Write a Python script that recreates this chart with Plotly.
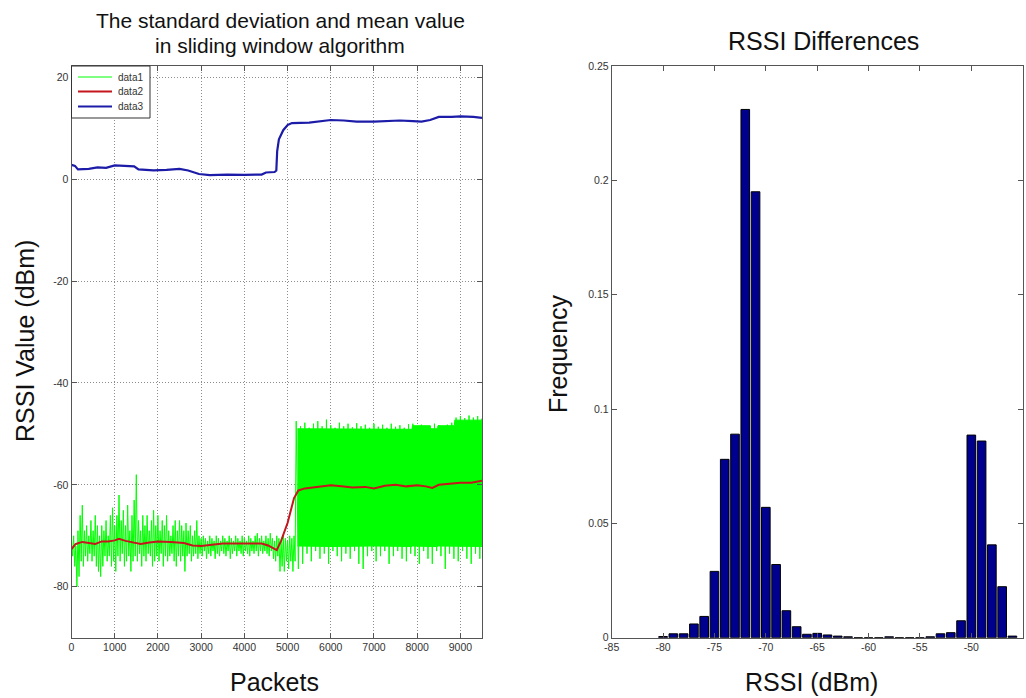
"""
Sliding-window RSSI plot (left) and RSSI histogram (right), MATLAB-style look.
"""

import plotly.graph_objects as go

W, H = 1026, 698

# ---- left panel: packets vs RSSI ------------------------------------------
# data1 before the jump: raw RSSI read as high/low envelope every 50 packets
NOISE_PACKETS = list(range(0, 5200, 50))
NOISE_HIGH = [
    -71, -70, -72, -69, -66, -64, -69, -68, -70, -67,
    -69, -66, -68, -70, -68, -69, -67, -70, -66, -64.5,
    -68, -66, -62, -67, -65, -68, -64, -69, -66, -63,
    -58, -67, -69, -66, -68, -66, -69, -67, -65, -68,
    -66, -69, -67, -68, -66, -69, -70, -68, -67, -69,
    -67, -68, -69, -67.5, -69, -68, -70, -69, -67, -70,
    -70.5, -70, -70.5, -71, -70, -70.5, -71, -70, -70.5, -71,
    -70, -70.5, -71, -70, -70.5, -71, -70, -70.5, -71, -70,
    -70.5, -71, -70, -70.5, -71, -70, -69.5, -70.5, -70, -71,
    -70, -70.5, -69.5, -70.5, -71, -70, -70.5, -71, -70, -70.5,
    -71, -70, -70.5, -70,
]
NOISE_LOW = [
    -74, -76, -80, -78, -75, -76, -74, -75, -73.5, -75,
    -74, -76, -77, -78, -76, -74, -75, -74, -76, -75,
    -77, -74, -75, -73.5, -76, -75, -74, -77, -75, -74,
    -75, -73.5, -76, -74, -75, -73.5, -74, -76, -75, -74,
    -75, -73.5, -76, -74, -75, -74, -73.5, -75, -76, -74,
    -75, -74, -77, -74, -73.5, -75, -74, -73.5, -74.5, -73.5,
    -74, -73, -74.5, -73.5, -74, -73, -74.5, -73.5, -74, -73,
    -73.5, -74, -73, -74.5, -73.5, -73, -74, -73, -73.5, -74,
    -73, -73.5, -74, -73, -73.5, -73, -74, -73, -73.5, -73,
    -73.5, -74, -73, -74.5, -75, -74, -77, -76, -77, -75,
    -76.5, -75, -77, -75,
]
# data1 after the jump: solid band core plus spikes every 100 packets
BAND_PACKETS = [5230, 6000, 7000, 7880, 7890, 8300, 8310, 8470, 8480, 8860, 8870, 9500]
BAND_TOP = [-49.0, -49.0, -49.1, -49.1, -48.4, -48.4, -49.0, -49.0, -48.4, -48.4, -47.3, -47.3]
BAND_BOTTOM = [-72.0, -72.1, -72.0, -72.1, -72.0, -72.1, -72.0, -72.1, -72.0, -72.1, -72.0, -72.1]
SPIKE_PACKETS = list(range(5200, 9501, 100))
SPIKE_HIGH = [
    -47.5, -48.5, -47.8, -48.8, -48.0, -47.5, -48.5, -47.2, -48.3, -48.8,
    -47.8, -48.5, -48.0, -48.7, -47.9, -48.5, -48.2, -48.8, -48.0, -48.6,
    -48.2, -48.8, -48.0, -48.6, -48.3, -48.8, -48.1, -48.0, -48.5, -48.2,
    -48.9, -48.4, -48.0, -48.3, -48.6, -48.2, -47.8, -46.8, -46.5, -46.9,
    -46.4, -46.8, -46.5, -47.0,
]
SPIKE_LOW = [
    -76.5, -75.5, -73.5, -75.0, -73.0, -74.5, -73.5, -75.5, -73.0, -74.0,
    -75.0, -73.5, -74.5, -73.0, -75.5, -76.5, -74.0, -73.0, -75.0, -74.0,
    -73.0, -75.5, -74.0, -73.0, -74.5, -75.0, -73.5, -74.0, -75.5, -73.0,
    -74.5, -75.5, -73.0, -74.0, -76.5, -73.5, -74.5, -75.0, -73.0, -74.5,
    -75.5, -73.5, -74.5, -75.0,
]

# data2 : sliding-window mean
MEAN_PACKETS = [0, 100, 250, 400, 550, 700, 850, 1000, 1100, 1250, 1450, 1600, 1800,
                2000, 2300, 2600, 2800, 3000, 3200, 3500, 4000, 4400, 4550, 4750,
                4850, 5000, 5150, 5250, 5400, 5600, 5800, 6000, 6250, 6500, 6800,
                7000, 7250, 7500, 7750, 8000, 8200, 8350, 8500, 8750, 9000, 9250, 9500]
MEAN_RSSI = [-72.6, -71.6, -71.2, -71.4, -71.6, -71.1, -71.1, -70.9, -70.6, -71.0,
             -71.4, -71.6, -71.3, -71.1, -71.2, -71.4, -71.9, -72.0, -71.8, -71.5,
             -71.5, -71.5, -71.9, -72.8, -71.0, -67.5, -62.6, -61.1, -60.7, -60.5,
             -60.3, -60.1, -60.3, -60.5, -60.4, -60.7, -60.2, -60.0, -60.3, -60.1,
             -60.3, -60.6, -60.0, -59.8, -59.6, -59.6, -59.2]

# data3 : sliding-window standard deviation
STD_PACKETS = [0, 80, 150, 400, 600, 800, 1000, 1300, 1450, 1550, 1900, 2200, 2500,
               2700, 2950, 3200, 3600, 4000, 4400, 4500, 4700, 4740, 4760, 4800,
               4900, 5000, 5100, 5500, 5800, 6000, 6300, 6600, 7000, 7300, 7600,
               7900, 8100, 8300, 8500, 8800, 9000, 9300, 9500]
STD_RSSI = [2.8, 2.6, 1.9, 2.0, 2.3, 2.2, 2.7, 2.6, 2.5, 1.9, 1.7, 1.8, 2.0,
            1.7, 1.0, 0.8, 0.9, 0.85, 0.9, 1.3, 1.4, 1.7, 5.5, 7.8,
            9.6, 10.6, 11.0, 11.1, 11.4, 11.6, 11.5, 11.3, 11.3, 11.4, 11.5,
            11.4, 11.3, 11.6, 12.2, 12.2, 12.3, 12.2, 12.0]

LEFT_XTICKS = list(range(0, 9001, 1000))
LEFT_YTICKS = [-80, -60, -40, -20, 0, 20]
LEGEND_NAMES = ["data1", "data2", "data3"]

# ---- right panel: histogram -------------------------------------------------
RSSI_BINS = list(range(-80, -45))
FREQUENCY = [0.0005, 0.0017, 0.0017, 0.006, 0.0093, 0.029, 0.078, 0.089, 0.231, 0.195,
             0.057, 0.032, 0.0118, 0.0048, 0.0015, 0.0019, 0.0012, 0.0007, 0.0004, 0,
             0, 0, 0.0004, 0, 0, 0, 0.0004, 0.0017, 0.0022, 0.0074,
             0.0886, 0.086, 0.0406, 0.0223, 0.0007]
RIGHT_XTICKS = list(range(-85, -44, 5))
RIGHT_YTICKS = [0, 0.05, 0.1, 0.15, 0.2, 0.25]
RIGHT_YTEXT = ["0", "0.05", "0.1", "0.15", "0.2", "0.25"]

FONT = "Liberation Sans, Arial, sans-serif"
GREEN = "#00ff00"
RED = "#c4161c"
BLUE = "#1c1ca8"
FRAME = "#555555"


def px_x(x):
    return x / W


def px_y(y):
    return 1 - y / H


# zigzag through the envelopes so the raw trace reads as noise
zig_x, zig_y = [], []
for p, hi, lo in zip(NOISE_PACKETS, NOISE_HIGH, NOISE_LOW):
    zig_x += [p, p + 25]
    zig_y += [hi, lo]
for p, hi, lo in zip(SPIKE_PACKETS, SPIKE_HIGH, SPIKE_LOW):
    zig_x += [p, p + 50]
    zig_y += [hi, lo]

band_x = BAND_PACKETS + BAND_PACKETS[::-1]
band_y = BAND_TOP + BAND_BOTTOM[::-1]

fig = go.Figure()
fig.add_trace(go.Scatter(x=band_x, y=band_y, fill="toself", fillcolor=GREEN, mode="lines",
                         line=dict(color=GREEN, width=1), hoverinfo="skip"))
fig.add_trace(go.Scatter(x=zig_x, y=zig_y, mode="lines", name="data1",
                         line=dict(color=GREEN, width=1)))
fig.add_trace(go.Scatter(x=MEAN_PACKETS, y=MEAN_RSSI, mode="lines", name="data2",
                         line=dict(color=RED, width=2)))
fig.add_trace(go.Scatter(x=STD_PACKETS, y=STD_RSSI, mode="lines", name="data3",
                         line=dict(color=BLUE, width=2.2)))
fig.add_trace(go.Bar(x=RSSI_BINS, y=FREQUENCY, xaxis="x2", yaxis="y2", width=0.84,
                     marker=dict(color="#00008f", line=dict(color="#000000", width=1))))

axis_common = dict(
    showline=True, linecolor=FRAME, linewidth=1, mirror="ticks",
    ticks="inside", ticklen=5, tickcolor=FRAME, zeroline=False, automargin=False,
    tickfont=dict(family=FONT, size=10.5, color="#333333"),
)
grid = dict(showgrid=True, gridcolor="#8c8c8c", griddash="1px,2px", gridwidth=1)

fig.update_layout(
    width=W, height=H,
    margin=dict(l=0, r=0, t=0, b=0, autoexpand=False),
    paper_bgcolor="white", plot_bgcolor="white",
    font=dict(family=FONT, color="#111111"),
    showlegend=False,
    xaxis=dict(domain=[px_x(71.5), px_x(482)], range=[0, 9500], anchor="y",
               tickmode="array", tickvals=LEFT_XTICKS, ticktext=[str(v) for v in LEFT_XTICKS],
               **grid, **axis_common),
    yaxis=dict(domain=[px_y(637.7), px_y(66)], range=[-90, 22.2], anchor="x",
               tickmode="array", tickvals=LEFT_YTICKS, ticktext=[str(v) for v in LEFT_YTICKS],
               **grid, **axis_common),
    xaxis2=dict(domain=[px_x(611.7), px_x(1022.7)], range=[-85, -45], anchor="y2",
                tickmode="array", tickvals=RIGHT_XTICKS, ticktext=[str(v) for v in RIGHT_XTICKS],
                showgrid=False, **axis_common),
    yaxis2=dict(domain=[px_y(637.7), px_y(66)], range=[0, 0.25], anchor="x2",
                tickmode="array", tickvals=RIGHT_YTICKS, ticktext=RIGHT_YTEXT,
                showgrid=False, **axis_common),
)

# MATLAB-style legend box in the upper-left corner of the left axes
fig.add_shape(type="rect", xref="paper", yref="paper",
              x0=px_x(71.5), x1=px_x(150), y0=px_y(118), y1=px_y(66),
              line=dict(color="#333333", width=1), fillcolor="white", layer="above")
for name, color, row_y in zip(LEGEND_NAMES, [GREEN, RED, BLUE], [77, 91.5, 106.5]):
    fig.add_shape(type="line", xref="paper", yref="paper",
                  x0=px_x(78), x1=px_x(112), y0=px_y(row_y), y1=px_y(row_y),
                  line=dict(color=color, width=1 if name == "data1" else 2), layer="above")
    fig.add_annotation(text=name, x=px_x(116), y=px_y(row_y), xref="paper", yref="paper",
                       xanchor="left", yanchor="middle", showarrow=False,
                       font=dict(family=FONT, size=10, color="#333333"))

annotations = [
    ("The standard deviation and mean value", 280, 20, 21, 0),
    ("in sliding window algorithm", 280, 46, 21, 0),
    ("RSSI Differences", 823, 41, 25, 0),
    ("Packets", 274, 682, 25, 0),
    ("RSSI (dBm)", 811, 682, 25, 0),
    ("RSSI Value (dBm)", 25, 341, 25, -90),
    ("Frequency", 558, 354, 25, -90),
]
for text, x, y, size, angle in annotations:
    fig.add_annotation(text=text, x=px_x(x), y=px_y(y), xref="paper", yref="paper",
                       xanchor="center", yanchor="middle", showarrow=False, textangle=angle,
                       font=dict(family=FONT, size=size, color="#111111"))

fig.write_html("out.html", config={"displayModeBar": False},
               post_script="document.body.style.margin='0';")
